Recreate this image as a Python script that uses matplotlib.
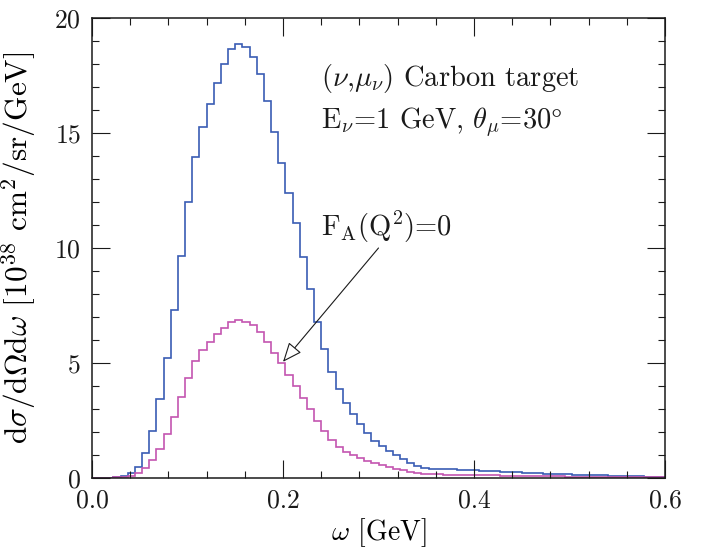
import matplotlib
matplotlib.use("Agg")
import matplotlib.pyplot as plt
import numpy as np

# 80 bins of 7.5 MeV between 0 and 0.6 GeV
omega_lo, omega_hi, n_bins = 0.0, 0.6, 80

full_xsec = [
    0.0, 0.01, 0.02, 0.04, 0.10, 0.20, 0.50, 1.07, 2.04, 3.43,
    5.20, 7.30, 9.65, 12.00, 13.94, 15.28, 16.26, 17.16, 18.00, 18.64,
    18.87, 18.75, 18.32, 17.57, 16.39, 15.06, 13.71, 12.38, 11.07, 9.62,
    8.20, 6.80, 5.60, 4.62, 3.88, 3.25, 2.78, 2.35, 1.97, 1.63,
    1.39, 1.16, 1.00, 0.82, 0.66, 0.53, 0.45, 0.40, 0.38, 0.37,
    0.37, 0.36, 0.35, 0.33, 0.32, 0.30, 0.29, 0.27, 0.26, 0.24,
    0.22, 0.21, 0.20, 0.19, 0.18, 0.17, 0.16, 0.15, 0.14, 0.13,
    0.12, 0.11, 0.10, 0.09, 0.08, 0.07, 0.07, 0.06, 0.05, 0.05,
]
fa_zero_xsec = [
    0.0, 0.01, 0.02, 0.03, 0.05, 0.10, 0.20, 0.42, 0.78, 1.27,
    1.91, 2.67, 3.54, 4.36, 5.09, 5.57, 5.93, 6.25, 6.52, 6.77,
    6.87, 6.78, 6.65, 6.33, 5.92, 5.45, 4.99, 4.50, 4.00, 3.49,
    2.98, 2.49, 2.04, 1.65, 1.36, 1.14, 1.00, 0.87, 0.75, 0.64,
    0.55, 0.46, 0.38, 0.33, 0.27, 0.23, 0.19, 0.17, 0.16, 0.15,
    0.14, 0.14, 0.13, 0.12, 0.12, 0.11, 0.11, 0.10, 0.10, 0.09,
    0.09, 0.08, 0.08, 0.07, 0.07, 0.07, 0.06, 0.06, 0.06, 0.05,
    0.05, 0.05, 0.04, 0.04, 0.04, 0.04, 0.03, 0.03, 0.03, 0.03,
]

x_ticks = [0.0, 0.2, 0.4, 0.6]
x_ticklabels = ["0.0", "0.2", "0.4", "0.6"]
y_ticks = [0, 5, 10, 15, 20]

_BLUE = "#3a5cb4"
_MAG = "#c455b0"
_INK = "#1a1a1a"

plt.rcParams["font.family"] = ["cmr10", "DejaVu Serif"]
plt.rcParams["mathtext.fontset"] = "cm"
plt.rcParams["axes.formatter.use_mathtext"] = True

fig = plt.figure(figsize=(7.08, 5.49), dpi=100)
ax = fig.add_axes([92 / 708, 1 - 478 / 549, 573 / 708, 460 / 549])

edges = np.linspace(omega_lo, omega_hi, n_bins + 1)
ax.stairs(full_xsec, edges, color=_BLUE, lw=1.2, baseline=None)
ax.stairs(fa_zero_xsec, edges, color=_MAG, lw=1.2, baseline=None)

ax.set_xlim(omega_lo, omega_hi)
ax.set_ylim(0, 20)
ax.set_xticks(x_ticks)
ax.set_xticklabels(x_ticklabels)
ax.set_yticks(y_ticks)
ax.set_xticks(np.arange(0, 0.6001, 0.04), minor=True)
ax.set_yticks(np.arange(0, 20.001, 1), minor=True)
ax.tick_params(which="both", direction="in", top=True, right=True,
               colors=_INK, labelsize=18.5, width=0.8)
ax.tick_params(which="major", length=13, pad=8)
ax.tick_params(which="minor", length=5)
for s in ax.spines.values():
    s.set_linewidth(1.1)
    s.set_color(_INK)

ax.set_xlabel(r"$\omega$ [GeV]", fontsize=20)
ax.set_ylabel(r"d$\sigma$/d$\Omega$d$\omega$ [10$^{38}$ cm$^2$/sr/GeV]", fontsize=22.5)
ax.xaxis.set_label_coords(0.5, -0.082)
ax.yaxis.set_label_coords(-0.093, 0.5)

ax.text(0.24, 17.35, r"($\nu$,$\mu_\nu$) Carbon target", fontsize=20.5,
        va="center", ha="left", color=_INK)
ax.text(0.24, 15.45, r"E$_\nu$=1 GeV, $\theta_\mu$=30$\degree$", fontsize=20.5,
        va="center", ha="left", color=_INK)
ax.text(0.24, 10.9, r"F$_{\rm A}$(Q$^2$)=0", fontsize=20.5,
        va="center", ha="left", color=_INK)
ax.annotate("", xy=(0.2, 5.05), xytext=(0.3, 10.0),
            arrowprops=dict(arrowstyle="-|>,head_length=0.6,head_width=0.25",
                            fc="white", ec=_INK, lw=0.8, mutation_scale=20,
                            shrinkA=0, shrinkB=0))

fig.savefig("out.png", dpi=100, facecolor="white")
